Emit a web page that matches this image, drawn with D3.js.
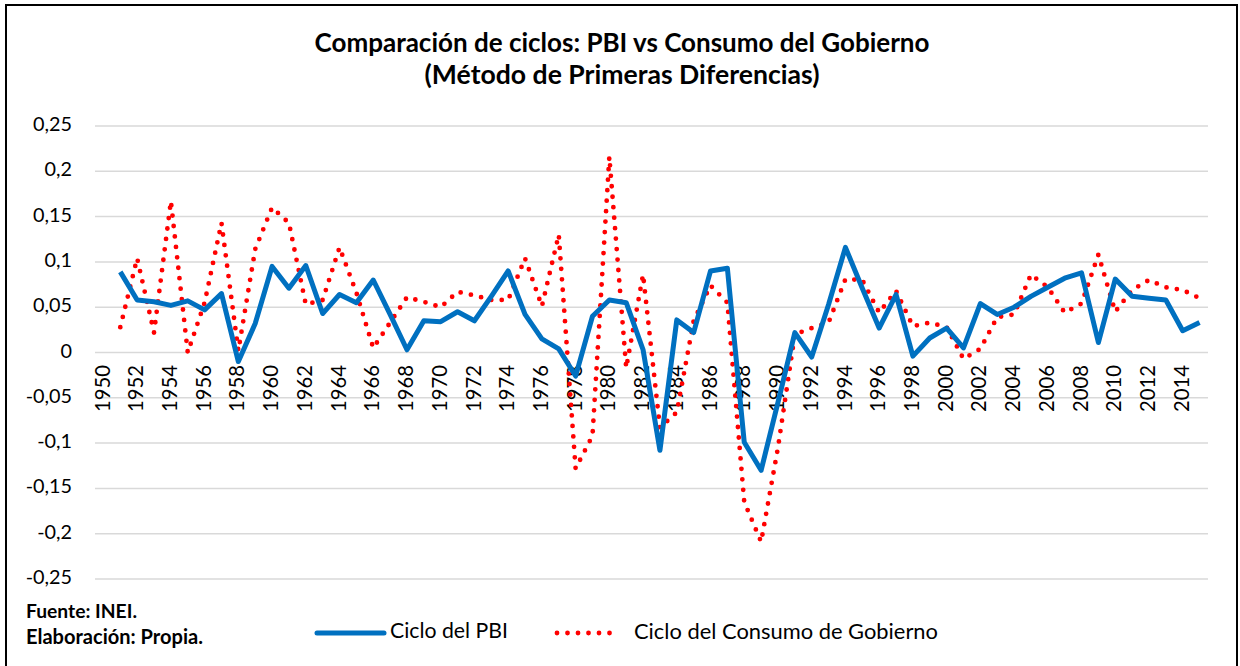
<!DOCTYPE html>
<html>
<head>
<meta charset="utf-8">
<script src="https://cdn.jsdelivr.net/npm/d3@7"></script>
<style>
  html, body { margin: 0; padding: 0; background: #fff; }
  svg { display: block; }
  text { font-family: Lato, "Open Sans", sans-serif; fill: #000; }
</style>
</head>
<body>
<svg id="chart" width="1240" height="666"></svg>
<script>
// ---------- DATA ----------
const years = [1950,1951,1952,1953,1954,1955,1956,1957,1958,1959,
  1960,1961,1962,1963,1964,1965,1966,1967,1968,1969,
  1970,1971,1972,1973,1974,1975,1976,1977,1978,1979,
  1980,1981,1982,1983,1984,1985,1986,1987,1988,1989,
  1990,1991,1992,1993,1994,1995,1996,1997,1998,1999,
  2000,2001,2002,2003,2004,2005,2006,2007,2008,2009,
  2010,2011,2012,2013,2014,2015];

// values from 1951 to 2015 (1950 has no value)
const cicloPBI = [0.089,0.058,0.056,0.052,0.057,0.047,0.065,-0.010,0.032,
  0.095,0.071,0.096,0.043,0.064,0.055,0.080,0.042,0.003,0.035,
  0.034,0.045,0.035,0.062,0.090,0.042,0.015,0.004,-0.026,0.040,
  0.058,0.055,0.003,-0.108,0.036,0.022,0.090,0.093,-0.099,-0.130,
  -0.055,0.022,-0.005,0.053,0.116,0.071,0.027,0.064,-0.004,0.016,
  0.027,0.005,0.054,0.042,0.050,0.062,0.072,0.082,0.088,0.011,
  0.081,0.062,0.060,0.058,0.024,0.033];

const cicloConsumo = [0.028,0.104,0.022,0.167,0.000,0.055,0.143,0.002,0.114,
  0.160,0.143,0.053,0.058,0.116,0.066,0.005,0.033,0.061,0.056,
  0.050,0.067,0.063,0.058,0.058,0.104,0.051,0.130,-0.128,-0.092,
  0.216,-0.017,0.086,-0.083,-0.066,0.035,0.074,0.055,-0.165,-0.209,
  -0.105,0.020,0.027,0.033,0.081,0.080,0.044,0.068,0.029,0.033,
  0.028,-0.007,0.004,0.039,0.042,0.086,0.072,0.044,0.054,0.108,
  0.045,0.069,0.080,0.072,0.069,0.060];

const yTicks = [0.25,0.2,0.15,0.1,0.05,0,-0.05,-0.1,-0.15,-0.2,-0.25];
const xLabelYears = years.filter(y => y % 2 === 0);

const titleLines = ["Comparación de ciclos: PBI vs Consumo del Gobierno", "(Método de Primeras Diferencias)"];
const seriesNames = ["Ciclo del PBI", "Ciclo del Consumo de Gobierno"];
const notes = ["Fuente: INEI.", "Elaboración: Propia."];

// ---------- LAYOUT ----------
const svg = d3.select("#chart");
const plot = {left: 95, right: 1208, top: 126, bottom: 579};

const x = d3.scaleBand().domain(years).range([plot.left, plot.right]);
const y = d3.scaleLinear().domain([-0.25, 0.25]).range([plot.bottom, plot.top]);
const cx = yr => x(yr) + x.bandwidth() / 2;

function fit(sel, target) {
  const node = sel.node();
  const fs = parseFloat(sel.attr("font-size"));
  const w = node.getComputedTextLength();
  sel.attr("font-size", (fs * target / w).toFixed(2));
}

// background & border
svg.append("rect").attr("x", 0).attr("y", 0).attr("width", 1240).attr("height", 666).attr("fill", "#fff");
svg.append("rect").attr("x", 6).attr("y", 5).attr("width", 1231).attr("height", 668)
  .attr("fill", "none").attr("stroke", "#000").attr("stroke-width", 2);

// gridlines
svg.append("g").selectAll("line").data(yTicks).join("line")
  .attr("x1", plot.left).attr("x2", plot.right)
  .attr("y1", d => y(d)).attr("y2", d => y(d))
  .attr("stroke", "#d9d9d9").attr("stroke-width", 1.5);

// y axis labels
const fmt = d => String(d).replace(".", ",");
const yl = svg.append("g").selectAll("text").data(yTicks).join("text")
  .attr("x", 72).attr("y", d => y(d)).attr("text-anchor", "end")
  .attr("dominant-baseline", "middle").attr("font-size", 20)
  .text(fmt);
fit(yl.filter(d => d === 0.25), 39);
const yfs = yl.filter(d => d === 0.25).attr("font-size");
yl.attr("font-size", yfs);

// x axis labels (rotated)
const xl = svg.append("g").selectAll("text").data(xLabelYears).join("text")
  .attr("transform", d => `translate(${cx(d) + 1},${365}) rotate(-90)`)
  .attr("text-anchor", "end").attr("dominant-baseline", "middle")
  .attr("font-size", yfs)
  .text(d => d);
fit(xl.filter(d => d === 1974), 47);
xl.attr("font-size", xl.filter(d => d === 1974).attr("font-size"));

// lines
const yearsData = years.slice(1);
const line = d3.line().x(d => cx(d[0])).y(d => y(d[1]));
svg.append("path")
  .datum(yearsData.map((yr, i) => [yr, cicloConsumo[i]]))
  .attr("d", line).attr("fill", "none")
  .attr("stroke", "#ff0000").attr("stroke-width", 4.8)
  .attr("stroke-linecap", "round").attr("stroke-dasharray", "0 10.5");
svg.append("path")
  .datum(yearsData.map((yr, i) => [yr, cicloPBI[i]]))
  .attr("d", line).attr("fill", "none")
  .attr("stroke", "#0070c0").attr("stroke-width", 5)
  .attr("stroke-linejoin", "round");

// title
const t1 = svg.append("text").attr("x", 622).attr("y", 45).attr("text-anchor", "middle")
  .attr("dominant-baseline", "middle").attr("font-weight", "bold").attr("font-size", 22)
  .text(titleLines[0]);
fit(t1, 615);
const t2 = svg.append("text").attr("x", 622).attr("y", 77).attr("text-anchor", "middle")
  .attr("dominant-baseline", "middle").attr("font-weight", "bold").attr("font-size", 22)
  .text(titleLines[1]);
fit(t2, 395);

// notes
const n1 = svg.append("text").attr("x", 26).attr("y", 613).attr("dominant-baseline", "middle")
  .attr("font-weight", "bold").attr("font-size", 15).text(notes[0]);
fit(n1, 111);
const n2 = svg.append("text").attr("x", 26).attr("y", 639).attr("dominant-baseline", "middle")
  .attr("font-weight", "bold").attr("font-size", 15).text(notes[1]);
fit(n2, 177);

// legend
const ly = 633;
svg.append("line").attr("x1", 317).attr("x2", 384).attr("y1", ly).attr("y2", ly)
  .attr("stroke", "#0070c0").attr("stroke-width", 5).attr("stroke-linecap", "round");
const lt1 = svg.append("text").attr("x", 390).attr("y", ly).attr("dominant-baseline", "middle")
  .attr("font-size", 18).text(seriesNames[0]);
fit(lt1, 118);
svg.append("line").attr("x1", 557).attr("x2", 620).attr("y1", ly).attr("y2", ly)
  .attr("stroke", "#ff0000").attr("stroke-width", 4.8)
  .attr("stroke-linecap", "round").attr("stroke-dasharray", "0 10.5");
const lt2 = svg.append("text").attr("x", 634).attr("y", ly).attr("dominant-baseline", "middle")
  .attr("font-size", 18).text(seriesNames[1]);
fit(lt2, 304);
</script>
</body>
</html>
